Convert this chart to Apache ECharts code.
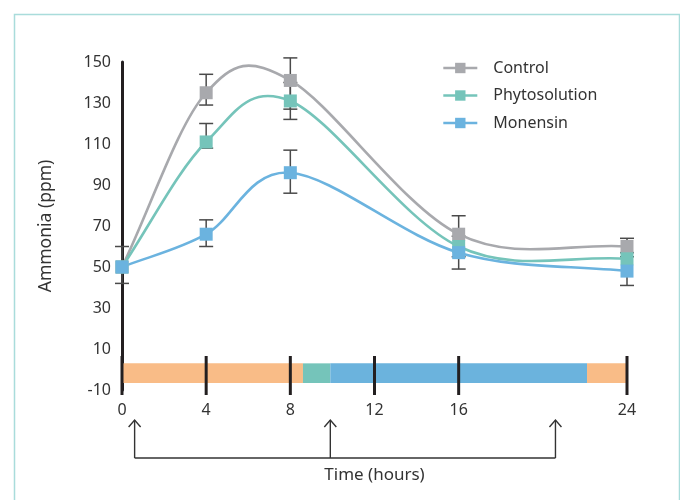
<!DOCTYPE html>
<html>
<head>
<meta charset="utf-8">
<script src="https://cdn.jsdelivr.net/npm/echarts@6/dist/echarts.min.js"></script>
<style>html,body{margin:0;padding:0;background:#fff}#c{width:680px;height:500px}</style>
</head>
<body>
<div id="c"></div>
<script>
// ---- data ----
const hours = [0, 4, 8, 16, 24];
const control = [50, 135, 141, 66, 60];
const phytosolution = [50, 111, 131, 60, 54];
const monensin = [50, 66, 96, 57, 48];

const controlLow = [42, 129, 127, 55, 57];
const controlHigh = [60, 144, 152, 75, 64];
const phytoLow = [null, 108, 122, null, null];
const phytoHigh = [null, 120, 140, null, null];
const monensinLow = [null, 60, 86, 49, 41];
const monensinHigh = [null, 73, 107, 65, 55];

const xTicks = [0, 4, 8, 12, 16, 24];
const yTickLabels = [-10, 10, 30, 50, 70, 90, 110, 130, 150];

// feeding-phase strip along the time axis (hours)
const phaseStart = [0, 8.6, 9.9, 22.1];
const phaseEnd = [8.6, 9.9, 22.1, 24];
const phaseKind = ['orange', 'teal', 'blue', 'orange'];

// sampling arrows (hours)
const arrowHours = [0.6, 9.9, 20.6];

// ---- styles ----
const COLORS = { control: '#A8A9AD', phyto: '#75C4BA', monensin: '#6BB3DF' };
const PHASE_COLORS = { orange: '#F9BC87', teal: '#75C4BA', blue: '#6BB3DD' };
const FONT = 'Noto Sans';

const chart = echarts.init(document.getElementById('c'), null, { renderer: 'canvas' });

function errData(lows, highs) {
  const out = [];
  hours.forEach((h, i) => { if (lows[i] != null) out.push([h, lows[i], highs[i]]); });
  return out;
}
const allErr = [].concat(errData(controlLow, controlHigh), errData(phytoLow, phytoHigh), errData(monensinLow, monensinHigh));

// Catmull-Rom style smooth curve through the data points, drawn as bezier segments
function curveSeries(values, color) {
  const pts = hours.map((h, i) => [h, values[i]]);
  const n = pts.length;
  function tangent(k) {
    if (k === 0) return [pts[1][0] - pts[0][0], pts[1][1] - pts[0][1]];
    if (k === n - 1) return [pts[n - 1][0] - pts[n - 2][0], pts[n - 1][1] - pts[n - 2][1]];
    return [(pts[k + 1][0] - pts[k - 1][0]) / 2, (pts[k + 1][1] - pts[k - 1][1]) / 2];
  }
  return {
    type: 'custom', z: 3, silent: true, clip: false,
    data: pts,
    renderItem(params, api) {
      const i = params.dataIndex;
      if (i === 0) return null;
      const a = pts[i - 1], b = pts[i];
      const ta = tangent(i - 1), tb = tangent(i);
      const p1 = api.coord(a);
      const c1 = api.coord([a[0] + ta[0] / 3, a[1] + ta[1] / 3]);
      const c2 = api.coord([b[0] - tb[0] / 3, b[1] - tb[1] / 3]);
      const p2 = api.coord(b);
      return { type: 'bezierCurve',
        shape: { x1: p1[0], y1: p1[1], cpx1: c1[0], cpy1: c1[1], cpx2: c2[0], cpy2: c2[1], x2: p2[0], y2: p2[1] },
        style: { stroke: color, lineWidth: 2.6, fill: 'none' } };
    }
  };
}

function markerSeries(name, values, color) {
  return {
    name, type: 'line', z: 4,
    data: hours.map((h, i) => [h, values[i]]),
    symbol: 'rect', symbolSize: 13,
    itemStyle: { color },
    lineStyle: { color, width: 2.6, opacity: 0 },
    emphasis: { disabled: true }
  };
}

const option = {
  animation: false,
  backgroundColor: '#fff',
  textStyle: { fontFamily: FONT },
  graphic: [{
    type: 'rect', left: 12, top: 12, shape: { width: 665, height: 520 },
    style: { fill: 'none', stroke: '#A9DCDB', lineWidth: 1.5 }, silent: true, z: -10
  }],
  grid: { left: 122, right: 53, top: 62, bottom: 110 },
  legend: {
    orient: 'vertical', left: 437, top: 55, itemWidth: 34, itemHeight: 13, itemGap: 11.5,
    lineStyle: { width: 2.6, opacity: 1 },
    textStyle: { fontSize: 16, color: '#333', fontFamily: FONT, padding: [0, 0, 0, 11] },
    data: ['Control', 'Phytosolution', 'Monensin']
  },
  xAxis: {
    type: 'value', min: 0, max: 24, interval: 4,
    name: 'Time (hours)', nameLocation: 'middle', nameGap: 77,
    nameTextStyle: { fontSize: 17, color: '#333', fontFamily: FONT },
    axisLine: { show: false }, axisTick: { show: false }, splitLine: { show: false },
    axisLabel: { fontSize: 16, color: '#333', margin: 12, fontFamily: FONT,
      formatter: v => xTicks.includes(v) ? String(v) : '' }
  },
  yAxis: {
    type: 'value', min: -10, max: 150, interval: 10,
    name: 'Ammonia (ppm)', nameLocation: 'middle', nameGap: 67,
    nameTextStyle: { fontSize: 17.5, color: '#333', fontFamily: FONT },
    axisLine: { show: true, lineStyle: { color: '#231F20', width: 3 } },
    axisTick: { show: false }, splitLine: { show: false },
    axisLabel: { fontSize: 16, color: '#333', margin: 11, fontFamily: FONT,
      formatter: v => yTickLabels.includes(v) ? String(v) : '' }
  },
  series: [
    // phase strip
    {
      type: 'custom', z: 1, silent: true, clip: false,
      data: phaseStart.map((s, i) => [s, phaseEnd[i], i]),
      renderItem(params, api) {
        const p0 = api.coord([api.value(0), 3]);
        const p1 = api.coord([api.value(1), -6.6]);
        const kind = phaseKind[api.value(2)];
        return { type: 'rect', shape: { x: p0[0], y: p0[1], width: p1[0] - p0[0], height: p1[1] - p0[1] },
          style: { fill: PHASE_COLORS[kind] } };
      }
    },
    // hour tick marks across the strip
    {
      type: 'custom', z: 2, silent: true, clip: false,
      data: xTicks.map(t => [t]),
      renderItem(params, api) {
        const base = api.coord([api.value(0), -10]);
        return { type: 'line', shape: { x1: base[0], y1: base[1] - 34, x2: base[0], y2: base[1] + 5 },
          style: { stroke: '#231F20', lineWidth: 3 } };
      }
    },
    // sampling arrows
    {
      type: 'custom', z: 2, silent: true, clip: false,
      data: arrowHours.map(h => [h]),
      renderItem(params, api) {
        const base = api.coord([api.value(0), -10]);
        const x = base[0], top = base[1] + 30, bot = base[1] + 68;
        const st = { stroke: '#333', lineWidth: 1.4, fill: 'none' };
        const children = [
          { type: 'line', shape: { x1: x, y1: top, x2: x, y2: bot }, style: st },
          { type: 'polyline', shape: { points: [[x - 6, top + 7], [x, top], [x + 6, top + 7]] }, style: st }
        ];
        if (params.dataIndex === 0) {
          const last = api.coord([arrowHours[arrowHours.length - 1], -10]);
          children.push({ type: 'line', shape: { x1: x, y1: bot, x2: last[0], y2: bot }, style: st });
        }
        return { type: 'group', children };
      }
    },
    // error bars
    {
      type: 'custom', z: 2, silent: true, clip: false,
      data: allErr,
      renderItem(params, api) {
        const lo = api.coord([api.value(0), api.value(1)]);
        const hi = api.coord([api.value(0), api.value(2)]);
        const x = lo[0], w = 7;
        const st = { stroke: '#4a4a4a', lineWidth: 1.5 };
        return { type: 'group', children: [
          { type: 'line', shape: { x1: x, y1: lo[1], x2: x, y2: hi[1] }, style: st },
          { type: 'line', shape: { x1: x - w, y1: lo[1], x2: x + w, y2: lo[1] }, style: st },
          { type: 'line', shape: { x1: x - w, y1: hi[1], x2: x + w, y2: hi[1] }, style: st }
        ] };
      }
    },
    curveSeries(control, COLORS.control),
    curveSeries(phytosolution, COLORS.phyto),
    curveSeries(monensin, COLORS.monensin),
    markerSeries('Control', control, COLORS.control),
    markerSeries('Phytosolution', phytosolution, COLORS.phyto),
    markerSeries('Monensin', monensin, COLORS.monensin)
  ]
};
chart.setOption(option);
</script>
</body>
</html>
